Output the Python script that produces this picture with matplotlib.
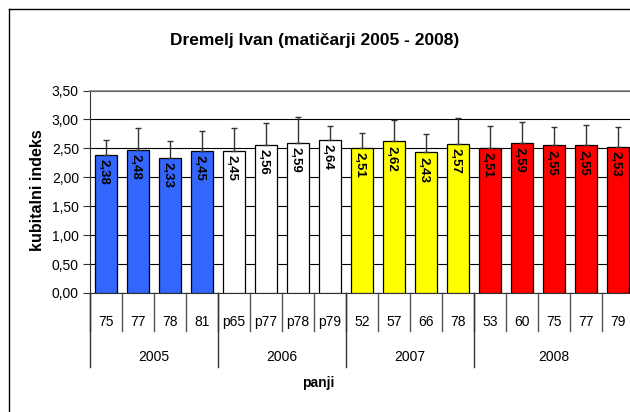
import matplotlib
matplotlib.use("Agg")
import matplotlib.pyplot as plt
from matplotlib.lines import Line2D
import matplotlib.transforms as mtransforms

plt.rcParams['font.family'] = ['Liberation Sans', 'DejaVu Sans']

categories = ["75", "77", "78", "81", "p65", "p77", "p78", "p79",
              "52", "57", "66", "78", "53", "60", "75", "77", "79"]
years = ["2005", "2006", "2007", "2008"]
year_sizes = [4, 4, 4, 5]
values = [2.38, 2.48, 2.33, 2.45, 2.45, 2.56, 2.59, 2.64,
          2.51, 2.62, 2.43, 2.57, 2.51, 2.59, 2.55, 2.55, 2.53]
errors = [0.26, 0.37, 0.29, 0.35, 0.40, 0.38, 0.45, 0.25,
          0.26, 0.37, 0.32, 0.45, 0.38, 0.36, 0.32, 0.36, 0.34]
year_colors = ["#3366FF", "#FFFFFF", "#FFFF00", "#FF0000"]
yticks = [0.0, 0.5, 1.0, 1.5, 2.0, 2.5, 3.0, 3.5]

W, H = 630, 412
fig = plt.figure(figsize=(W / 100, H / 100), dpi=100)
fig.patch.set_facecolor("white")

# axes geometry in pixels
x0, x1 = 90, 634
y_bot, y_top = 293, 90.5
ax = fig.add_axes([x0 / W, (H - y_bot) / H, (x1 - x0) / W, (y_bot - y_top) / H])

colors = []
for c, n in zip(year_colors, year_sizes):
    colors += [c] * n

xs = list(range(len(categories)))
ax.bar(xs, values, width=0.714, color=colors, edgecolor="black", linewidth=0.9, zorder=3)
ax.errorbar(xs, values, yerr=[[0] * len(errors), errors], fmt="none",
            ecolor="#333333", elinewidth=1.0, capsize=2.5, capthick=1.0, zorder=4)

for x, v in zip(xs, values):
    ax.annotate(f"{v:.2f}".replace(".", ","), xy=(x, v), xytext=(-1.5, -3),
                textcoords="offset points", rotation=270, ha="center", va="top",
                fontsize=9.5, fontweight="bold", color="black", zorder=5)

ax.set_xlim(-0.5, len(categories) - 0.5)
ax.set_ylim(0, 3.5)
ax.set_yticks(yticks)
ax.set_yticklabels([f"{t:.2f}".replace(".", ",") for t in yticks], fontsize=10)
ax.yaxis.grid(True, color="black", linewidth=0.8, zorder=0)
ax.set_axisbelow(True)
ax.tick_params(axis="y", direction="out", length=5, width=0.8, color="#333333", pad=3)
ax.set_xticks([])
for s in ["top", "right"]:
    ax.spines[s].set_color("#808080")
ax.spines["top"].set_linewidth(1.2)
ax.spines["left"].set_color("#333333")
ax.spines["bottom"].set_color("#333333")

trans = mtransforms.blended_transform_factory(ax.transData, ax.transAxes)
hpx = y_bot - y_top
cat_line = -38 / hpx
year_line = -74 / hpx
for i, c in enumerate(categories):
    ax.text(i, -28.7 / hpx, c, transform=trans, ha="center", va="center", fontsize=10)
for b in range(len(categories) + 1):
    ax.add_line(Line2D([b - 0.5, b - 0.5], [0, cat_line], transform=trans,
                       color="#555555", linewidth=1.0, clip_on=False))
start = 0
for y, n in zip(years, year_sizes):
    ax.text(start + n / 2 - 0.5, -64 / hpx, y, transform=trans, ha="center",
            va="center", fontsize=10)
    ax.add_line(Line2D([start - 0.5, start - 0.5], [0, year_line], transform=trans,
                       color="#333333", linewidth=1.0, clip_on=False))
    start += n
ax.add_line(Line2D([start - 0.5, start - 0.5], [0, year_line], transform=trans,
                   color="#333333", linewidth=1.0, clip_on=False))

fig.text(318 / W, 1 - 383 / H, "panji", ha="center", va="center",
         fontsize=10, fontweight="bold")
fig.text(38 / W, 1 - 190 / H, "kubitalni indeks", ha="center", va="center",
         rotation=90, fontsize=11.5, fontweight="bold")
fig.text(315 / W, 1 - 40 / H, "Dremelj Ivan (matičarji 2005 - 2008)", ha="center",
         va="center", fontsize=12.5, fontweight="bold")

# outer chart frame (cropped at right and bottom)
fig.add_artist(Line2D([9 / W, 9 / W], [1 - 9 / H, 0], transform=fig.transFigure,
                      color="black", linewidth=1.0))
fig.add_artist(Line2D([9 / W, 1], [1 - 9 / H, 1 - 9 / H], transform=fig.transFigure,
                      color="black", linewidth=1.0))

fig.savefig("out.png", dpi=100)
